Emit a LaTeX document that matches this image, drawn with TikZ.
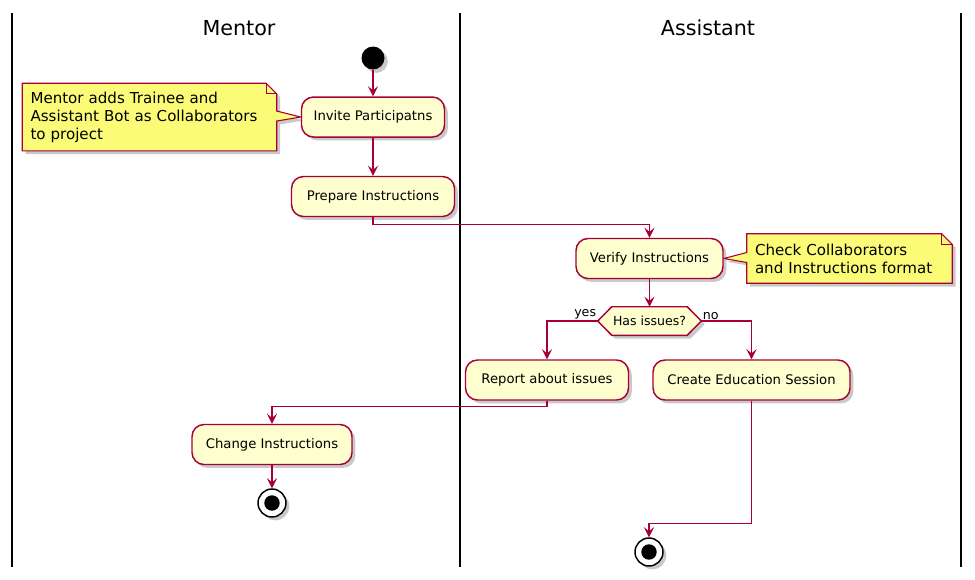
\documentclass[tikz,border=0pt]{standalone}
\usepackage{fontspec}
\setmainfont{DejaVu Sans}
\usetikzlibrary{arrows.meta, positioning, shadows, backgrounds}
\definecolor{umlred}{HTML}{A80036}
\definecolor{actfill}{HTML}{FEFECE}
\definecolor{notefill}{HTML}{FBFB77}

\begin{document}
\begin{tikzpicture}[x=0.75pt, y=-0.75pt, >={Stealth[length=7.5pt,width=7.5pt,inset=3pt]},
	umlshadow/.style={drop shadow={shadow xshift=2.5pt, shadow yshift=-2.5pt, opacity=0.3, fill=black!70}},
	lane/.style={line width=1.5pt},
	lanetitle/.style={font=\fontsize{15.5}{18}\selectfont},
	action/.style={draw=umlred, fill=actfill, line width=1.1pt, rounded corners=9pt, minimum height=30pt, font=\fontsize{9.9}{12}\selectfont, umlshadow},
	startdot/.style={circle, fill=black, minimum size=17.25pt, inner sep=0pt, umlshadow},
	stopdot/.style={circle, draw=black, fill=white, line width=1.1pt, minimum size=21pt, inner sep=0pt, umlshadow, path picture={\fill[black] (path picture bounding box.center) circle (5.8pt);}},
	dectext/.style={minimum width=56.25pt, minimum height=21pt, inner sep=0pt, font=\fontsize{9.4}{11}\selectfont},
	decshape/.style={draw=umlred, fill=actfill, line width=1.1pt, umlshadow},
	branchlabel/.style={inner sep=1pt, font=\fontsize{9.5}{11}\selectfont},
	notetext/.style={inner xsep=6pt, inner ysep=0pt, align=left, font=\fontsize{11.3}{13.5}\selectfont},
	noteshape/.style={draw=umlred, fill=notefill, line width=0.8pt, umlshadow},
	flow/.style={->, draw=umlred, line width=1.1pt}]
	\useasboundingbox (0,0) rectangle (975,579);
	% swimlanes
	\draw[lane] (12,13) -- (12,567);
	\draw[lane] (460,13) -- (460,567);
	\draw[lane] (961,13) -- (961,567);
	\node[lanetitle]	(mentor)	at (239,28)	{Mentor};
	\node[lanetitle]	(assistant)	at (708,28)	{Assistant};
	% mentor lane
	\node[startdot]	(start)		at (373,58)	{};
	\node[action, minimum width=107.25pt]	(invite)[below=19.9pt of start]	{Invite Participatns};
	\node[action, minimum width=122.25pt]	(prepare)[below=28.5pt of invite]	{Prepare Instructions};
	\node[notetext, text width=178.5pt, minimum height=50.25pt]	(n1)[left=18pt of invite]
		{Mentor adds Trainee and\\Assistant Bot as Collaborators\\to project};
	\node[action, minimum width=120pt]	(change)	at (272,444.5)	{Change Instructions};
	\node[stopdot]	(stop1)		at (272,503)	{};
	% assistant lane
	\node[action, minimum width=110.25pt]	(verify)	at (649.5,258.5)	{Verify Instructions};
	\node[notetext, text width=141.75pt, minimum height=36.75pt]	(n2)[right=17.25pt of verify]
		{Check Collaborators\\and Instructions format};
	\node[dectext]	(dec)	at (649.5,321)	{Has issues?};
	\coordinate (decL) at ([xshift=-10.5pt]dec.west);
	\coordinate (decR) at ([xshift=10.5pt]dec.east);
	\node[branchlabel, anchor=south east]	(yeslbl)	at (decL)	{yes};
	\node[branchlabel, anchor=south west]	(nolbl)		at (decR)	{no};
	\node[action, minimum width=122.25pt]	(report)	at (547,380)	{Report about issues};
	\node[action, minimum width=147.75pt]	(create)	at (751.5,380)	{Create Education Session};
	\node[stopdot]	(stop2)		at (649,552)	{};
	% notes and decision outlines
	\begin{scope}[on background layer]
		\path[noteshape] (n1.north west) -- ([xshift=-8pt]n1.north east) -- ([yshift=-8pt]n1.north east)
			-- ([yshift=4.5pt]n1.east) -- (invite.west) -- ([yshift=-3pt]n1.east)
			-- (n1.south east) -- (n1.south west) -- cycle;
		\draw[umlred, line width=0.8pt] ([xshift=-8pt]n1.north east) |- ([yshift=-8pt]n1.north east);
		\path[noteshape] (n2.north west) -- ([xshift=-8pt]n2.north east) -- ([yshift=-8pt]n2.north east)
			-- (n2.south east) -- (n2.south west) -- ([yshift=-3pt]n2.west)
			-- (verify.east) -- ([yshift=4.5pt]n2.west) -- cycle;
		\draw[umlred, line width=0.8pt] ([xshift=-8pt]n2.north east) |- ([yshift=-8pt]n2.north east);
		\path[decshape] (dec.north west) -- (dec.north east) -- (decR) -- (dec.south east)
			-- (dec.south west) -- (decL) -- cycle;
	\end{scope}
	% flows
	\draw[flow] (start) -- (invite);
	\draw[flow] (invite) -- (prepare);
	\draw[flow] (prepare.south) -- ++(0,7) -| (verify.north);
	\draw[flow] (verify.south) -- (dec.north);
	\draw[flow] (decL) -| (report.north);
	\draw[flow] (decR) -| (create.north);
	\draw[flow] (report.south) -- ++(0,6) -| (change.north);
	\draw[flow] (change) -- (stop1);
	\draw[flow] (create.south) -- ++(0,123) -| (stop2.north);
\end{tikzpicture}
\end{document}
